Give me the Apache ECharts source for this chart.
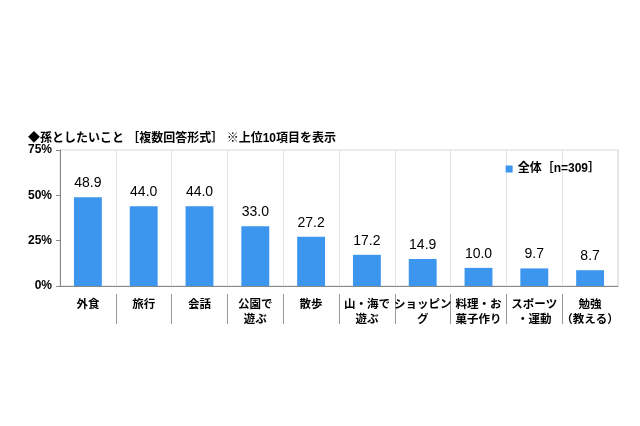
<!DOCTYPE html>
<html>
<head>
<meta charset="utf-8">
<style>
html,body{margin:0;padding:0;background:#fff;}
#chart{width:640px;height:426px;}
</style>
<script src="https://cdn.jsdelivr.net/npm/echarts@6/dist/echarts.min.js"></script>
</head>
<body>
<div id="chart"></div>
<script>
const categories = ['外食','旅行','会話','公園で\n遊ぶ','散歩','山・海で\n遊ぶ','ショッピン\nグ','料理・お\n菓子作り','スポーツ\n・運動','勉強\n（教える）'];
const values = [48.9, 44.0, 44.0, 33.0, 27.2, 17.2, 14.9, 10.0, 9.7, 8.7];
const seriesName = '全体［n=309］';
const titleText = '◆孫としたいこと ［複数回答形式］ ※上位10項目を表示';

const FONT = "'Liberation Sans', 'Noto Sans CJK JP', sans-serif";
const innerBoundaries = categories.slice(1).map(function (_, i) { return i + 1; });
const chart = echarts.init(document.getElementById('chart'));
chart.setOption({
  animation: false,
  backgroundColor: '#fff',
  textStyle: { fontFamily: FONT },
  title: {
    text: titleText,
    left: 28, top: 133,
    padding: 0,
    textStyle: { fontSize: 12, fontWeight: 'bold', color: '#000', fontFamily: FONT }
  },
  legend: {
    data: [seriesName],
    right: 40, top: 163,
    itemWidth: 7, itemHeight: 7, itemGap: 4,
    icon: 'rect',
    padding: 0,
    textStyle: { fontSize: 12, fontWeight: 'bold', color: '#000', fontFamily: FONT }
  },
  grid: {
    left: 60, right: 22, top: 150, bottom: 140,
    show: true, borderColor: '#d9d9d9', borderWidth: 1
  },
  xAxis: [{
    type: 'category',
    data: categories,
    axisLine: { lineStyle: { color: '#888', width: 1 } },
    axisTick: { show: false },
    splitLine: { show: true, lineStyle: { color: '#e3e3e3', width: 1 } },
    axisLabel: {
      interval: 0, margin: 11, lineHeight: 15,
      fontSize: 11.5, fontWeight: 'bold', color: '#000', fontFamily: FONT
    }
  }, {
    type: 'value',
    min: 0, max: categories.length,
    position: 'bottom',
    offset: 8,
    axisLine: { show: false },
    axisTick: { show: true, length: 30, customValues: innerBoundaries, lineStyle: { color: '#999', width: 1 } },
    axisLabel: { show: false, customValues: innerBoundaries },
    splitLine: { show: false }
  }],
  yAxis: {
    type: 'value',
    min: 0, max: 75, interval: 25,
    axisLine: { show: true, lineStyle: { color: '#888', width: 1 } },
    axisTick: { show: true, length: 4, lineStyle: { color: '#888' } },
    splitLine: { show: false },
    axisLabel: {
      formatter: '{value}%', margin: 8,
      fontSize: 12, fontWeight: 'bold', color: '#000', fontFamily: FONT
    }
  },
  series: [{
    name: seriesName,
    type: 'bar',
    xAxisIndex: 0,
    data: values,
    barWidth: '50%',
    itemStyle: { color: '#3d96ee' },
    label: {
      show: true, position: 'top', distance: 7,
      formatter: function (p) { return p.value.toFixed(1); },
      fontSize: 14, color: '#000', fontFamily: FONT
    }
  }]
});
</script>
</body>
</html>
